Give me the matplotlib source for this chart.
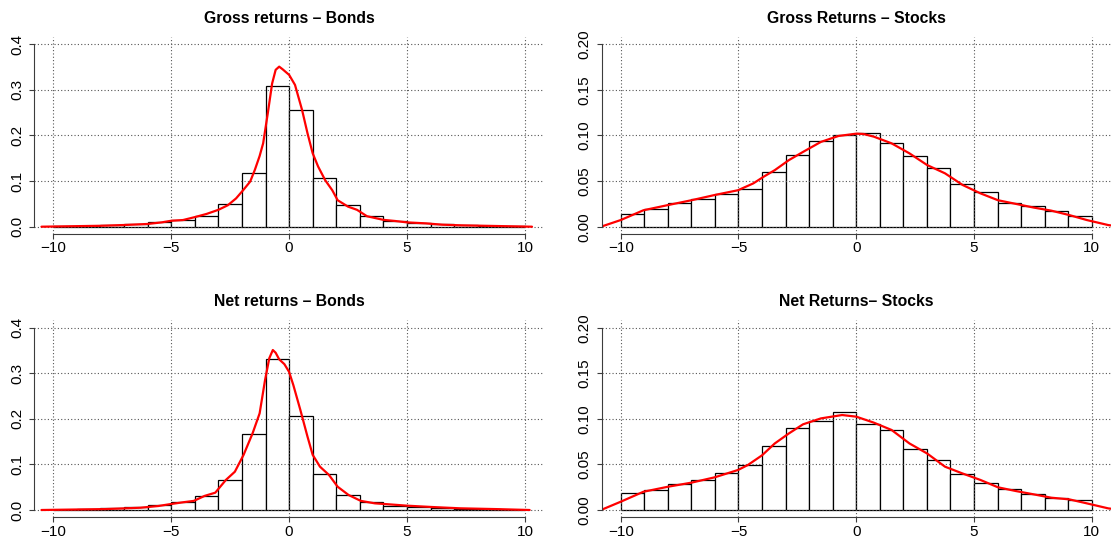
import numpy as np
import matplotlib
matplotlib.use("Agg")
import matplotlib.pyplot as plt

plt.rcParams['font.family'] = ['Liberation Sans', 'DejaVu Sans']

# ---------------- data ----------------
bin_edges = [-10, -9, -8, -7, -6, -5, -4, -3, -2, -1, 0, 1, 2, 3, 4, 5, 6, 7, 8, 9, 10]
x_ticks = [-10, -5, 0, 5, 10]

titles = ["Gross returns \u2013 Bonds", "Gross Returns \u2013 Stocks",
          "Net returns \u2013 Bonds", "Net Returns\u2013 Stocks"]

bond_yticks = [0.0, 0.1, 0.2, 0.3, 0.4]
bond_ylabels = ["0.0", "0.1", "0.2", "0.3", "0.4"]
stock_yticks = [0.0, 0.05, 0.10, 0.15, 0.20]
stock_ylabels = ["0.00", "0.05", "0.10", "0.15", "0.20"]

gross_bonds_hist = [0.001, 0.0015, 0.003, 0.005, 0.0095, 0.0146, 0.024, 0.049, 0.117, 0.309,
                    0.256, 0.1075, 0.047, 0.0227, 0.013, 0.009, 0.006, 0.0035, 0.002, 0.001]
gross_bonds_dx = [-10.5, -9.0, -8.0, -7.0, -6.0, -5.4, -5.0, -4.5, -4.0, -3.5, -3.0, -2.6,
                  -2.25, -1.95, -1.65, -1.45, -1.25, -1.1, -0.9, -0.72, -0.57, -0.42, -0.27,
                  0.0, 0.25, 0.55, 0.78, 1.0, 1.23, 1.53, 1.83, 2.06, 2.5, 2.88, 3.3, 4.0,
                  4.5, 5.0, 5.8, 6.5, 7.3, 8.8, 10.3]
gross_bonds_dy = [0.0, 0.0012, 0.002, 0.0037, 0.006, 0.0095, 0.013, 0.0146, 0.021, 0.028,
                  0.037, 0.047, 0.062, 0.080, 0.099, 0.125, 0.155, 0.183, 0.25, 0.314, 0.344,
                  0.351, 0.345, 0.333, 0.311, 0.256, 0.205, 0.161, 0.132, 0.102, 0.080, 0.058,
                  0.044, 0.037, 0.023, 0.015, 0.0125, 0.0095, 0.0073, 0.0044, 0.003, 0.0015, 0.0]

gross_stocks_hist = [0.0139, 0.0194, 0.0256, 0.030, 0.0362, 0.0417, 0.0603, 0.0782, 0.0943, 0.1009,
                     0.1027, 0.0918, 0.0779, 0.064, 0.0468, 0.0377, 0.026, 0.023, 0.0168, 0.0117]
gross_stocks_dx = [-10.84, -10.0, -9.04, -7.98, -7.0, -6.02, -5.02, -4.37, -3.92, -3.46, -2.86,
                   -2.26, -1.5, -0.75, 0.0, 0.3, 0.75, 1.5, 2.26, 3.01, 3.77, 4.52, 5.27, 6.02,
                   6.78, 7.53, 8.28, 9.04, 9.79, 10.7, 11.0]
gross_stocks_dy = [0.0, 0.0073, 0.018, 0.0238, 0.029, 0.0347, 0.040, 0.0475, 0.055, 0.062, 0.073,
                   0.082, 0.093, 0.0995, 0.102, 0.1017, 0.0987, 0.0914, 0.0804, 0.0676, 0.0585,
                   0.0457, 0.0366, 0.029, 0.025, 0.021, 0.0176, 0.0128, 0.0073, 0.0018, 0.0008]

net_bonds_hist = [0.001, 0.002, 0.0037, 0.006, 0.010, 0.0168, 0.0307, 0.0665, 0.166, 0.3305,
                  0.207, 0.080, 0.034, 0.0168, 0.0095, 0.0066, 0.0044, 0.003, 0.002, 0.001]
net_bonds_dx = [-10.5, -7.8, -6.3, -5.54, -5.1, -4.49, -4.04, -3.58, -3.13, -2.68, -2.3, -1.93,
                -1.55, -1.25, -1.02, -0.84, -0.69, -0.57, -0.42, -0.2, 0.0, 0.18, 0.48, 0.78,
                1.0, 1.31, 1.69, 2.06, 2.52, 3.04, 3.64, 4.25, 5.0, 6.05, 7.26, 8.77, 10.2]
net_bonds_dy = [0.0, 0.002, 0.005, 0.0088, 0.0124, 0.017, 0.020, 0.031, 0.038, 0.066, 0.084,
                0.121, 0.168, 0.212, 0.285, 0.333, 0.351, 0.345, 0.3305, 0.320, 0.303, 0.274,
                0.219, 0.161, 0.121, 0.095, 0.077, 0.051, 0.033, 0.020, 0.0146, 0.0124, 0.0095,
                0.0066, 0.0037, 0.002, 0.0]

net_stocks_hist = [0.0186, 0.0223, 0.0289, 0.0333, 0.0402, 0.0494, 0.0706, 0.0903, 0.0973, 0.1071,
                   0.0943, 0.0881, 0.0673, 0.0545, 0.0399, 0.0293, 0.0234, 0.0179, 0.0128, 0.0106]
net_stocks_dx = [-10.84, -10.0, -9.04, -7.98, -7.0, -6.02, -5.02, -4.6, -4.0, -3.46, -2.86, -2.26,
                 -1.5, -0.6, 0.0, 0.75, 1.5, 2.26, 3.01, 3.77, 4.52, 5.27, 6.02, 6.78, 7.53, 8.28,
                 9.04, 9.79, 10.7, 11.0]
net_stocks_dy = [0.0, 0.0091, 0.020, 0.0256, 0.030, 0.0358, 0.0439, 0.0494, 0.060, 0.073, 0.084,
                 0.094, 0.1005, 0.1042, 0.1024, 0.0958, 0.0878, 0.073, 0.062, 0.0475, 0.040,
                 0.033, 0.0249, 0.0208, 0.0172, 0.0135, 0.0117, 0.0073, 0.0018, 0.0008]

panels = [
    (gross_bonds_hist, gross_bonds_dx, gross_bonds_dy, bond_yticks, bond_ylabels, 0.4),
    (gross_stocks_hist, gross_stocks_dx, gross_stocks_dy, stock_yticks, stock_ylabels, 0.2),
    (net_bonds_hist, net_bonds_dx, net_bonds_dy, bond_yticks, bond_ylabels, 0.4),
    (net_stocks_hist, net_stocks_dx, net_stocks_dy, stock_yticks, stock_ylabels, 0.2),
]

# ---------------- layout (pixels) ----------------
W, H = 1111, 542
fig = plt.figure(figsize=(W / 100, H / 100), dpi=100)

# (left, right, top, bottom) of plotting regions in pixels
regions = [
    (34.4, 543.8, 37.0, 234.0),
    (601.9, 1110.6, 37.0, 234.0),
    (34.4, 543.8, 320.4, 517.3),
    (601.9, 1110.6, 320.4, 517.3),
]
title_y = [18.5, 18.5, 301.7, 301.7]

axis_col = '#3c3c3c'

for i, (hist, dx, dy, yt, ylab, ymax) in enumerate(panels):
    l, r, t, b = regions[i]
    ax = fig.add_axes([l / W, 1 - b / H, (r - l) / W, (b - t) / H])
    ax.set_xlim(-10.8, 10.8)
    pad = 0.04 * ymax
    ax.set_ylim(-pad, ymax + pad)

    ax.bar(bin_edges[:-1], hist, width=1.0, align='edge', facecolor='white',
           edgecolor='black', linewidth=0.9, zorder=2)
    ax.set_xticks(x_ticks)
    ax.set_yticks(yt)
    ax.set_yticklabels(ylab)
    ax.grid(True, color='#555555', linestyle=(0, (1, 2)), linewidth=0.8, zorder=3)
    ax.set_axisbelow(False)
    ax.plot(dx, dy, color='red', linewidth=1.6, zorder=4, solid_capstyle='round')

    for s in ['top', 'right']:
        ax.spines[s].set_visible(False)
    ax.spines['left'].set_bounds(0, ymax)
    ax.spines['bottom'].set_bounds(-10, 10)
    for s in ['left', 'bottom']:
        ax.spines[s].set_color(axis_col)
        ax.spines[s].set_linewidth(0.8)
        ax.spines[s].set_zorder(5)
    ax.tick_params(axis='both', direction='out', length=3.8, width=0.8, color=axis_col,
                   labelsize=11, labelcolor='black')
    ax.tick_params(axis='x', pad=1.5)
    ax.tick_params(axis='y', pad=3.5, labelrotation=90)
    for lab in ax.get_yticklabels():
        lab.set_va('center')
    for gl in ax.get_xgridlines() + ax.get_ygridlines():
        gl.set_zorder(3)

    fig.text(((l + r) / 2) / W, 1 - title_y[i] / H, titles[i], ha='center', va='center',
             fontsize=11.3, fontweight='bold')

fig.savefig("out.png", dpi=100)
